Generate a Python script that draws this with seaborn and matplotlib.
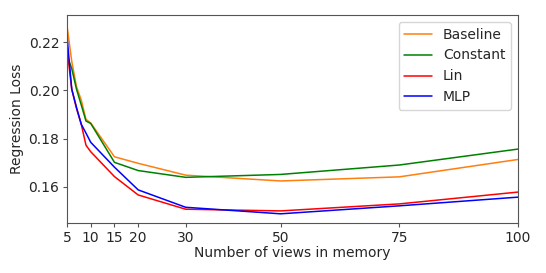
import matplotlib.pyplot as plt
import pandas as pd
import seaborn as sns

views = [5, 6, 7, 8, 9, 10, 15, 20, 30, 50, 75, 100]
baseline = [0.2268, 0.2120, 0.2015, 0.1960, 0.1880, 0.1865, 0.1725, 0.1698, 0.1649, 0.1625, 0.1642, 0.1714]
constant = [0.2145, 0.2090, 0.2005, 0.1940, 0.1873, 0.1863, 0.1702, 0.1668, 0.1640, 0.1652, 0.1691, 0.1757]
lin = [0.2173, 0.2005, 0.1925, 0.1860, 0.1773, 0.1746, 0.1643, 0.1567, 0.1508, 0.1501, 0.1530, 0.1579]
mlp = [0.2225, 0.2005, 0.1930, 0.1860, 0.1823, 0.1785, 0.1682, 0.1588, 0.1516, 0.1489, 0.1522, 0.1558]

x_ticks = [5, 10, 15, 20, 30, 50, 75, 100]
y_ticks = [0.16, 0.18, 0.20, 0.22]

df = pd.concat(
    [
        pd.DataFrame({"views": views, "loss": baseline, "method": "Baseline"}),
        pd.DataFrame({"views": views, "loss": constant, "method": "Constant"}),
        pd.DataFrame({"views": views, "loss": lin, "method": "Lin"}),
        pd.DataFrame({"views": views, "loss": mlp, "method": "MLP"}),
    ]
)

palette = {"Baseline": "#ff7f0e", "Constant": "green", "Lin": "red", "MLP": "blue"}

sns.set_style("white")
plt.rcParams["font.family"] = ["DejaVu Sans"]

fig = plt.figure(figsize=(5.46, 2.73), dpi=100)
ax = fig.add_axes([0.1227, 0.1832, 0.826, 0.7618])

sns.lineplot(
    data=df,
    x="views",
    y="loss",
    hue="method",
    palette=palette,
    linewidth=1.1,
    ax=ax,
)

ax.set_xlim(5, 100)
ax.set_ylim(0.1451, 0.2312)
ax.set_xticks(x_ticks)
ax.set_xticklabels([str(t) for t in x_ticks])
ax.set_yticks(y_ticks)
ax.set_yticklabels([f"{t:.2f}" for t in y_ticks])
ax.tick_params(axis="both", labelsize=10, length=3, width=0.8, pad=2.5,
               color="#555555", direction="out", bottom=True, left=True)
for s in ax.spines.values():
    s.set_color("#555555")
    s.set_linewidth(0.8)

ax.set_xlabel("Number of views in memory", fontsize=10, labelpad=1)
ax.set_ylabel("Regression Loss", fontsize=10, labelpad=3)
ax.legend(title=None, loc="upper right", fontsize=10, frameon=True, handlelength=2.0)

plt.savefig("out.png", dpi=100)
